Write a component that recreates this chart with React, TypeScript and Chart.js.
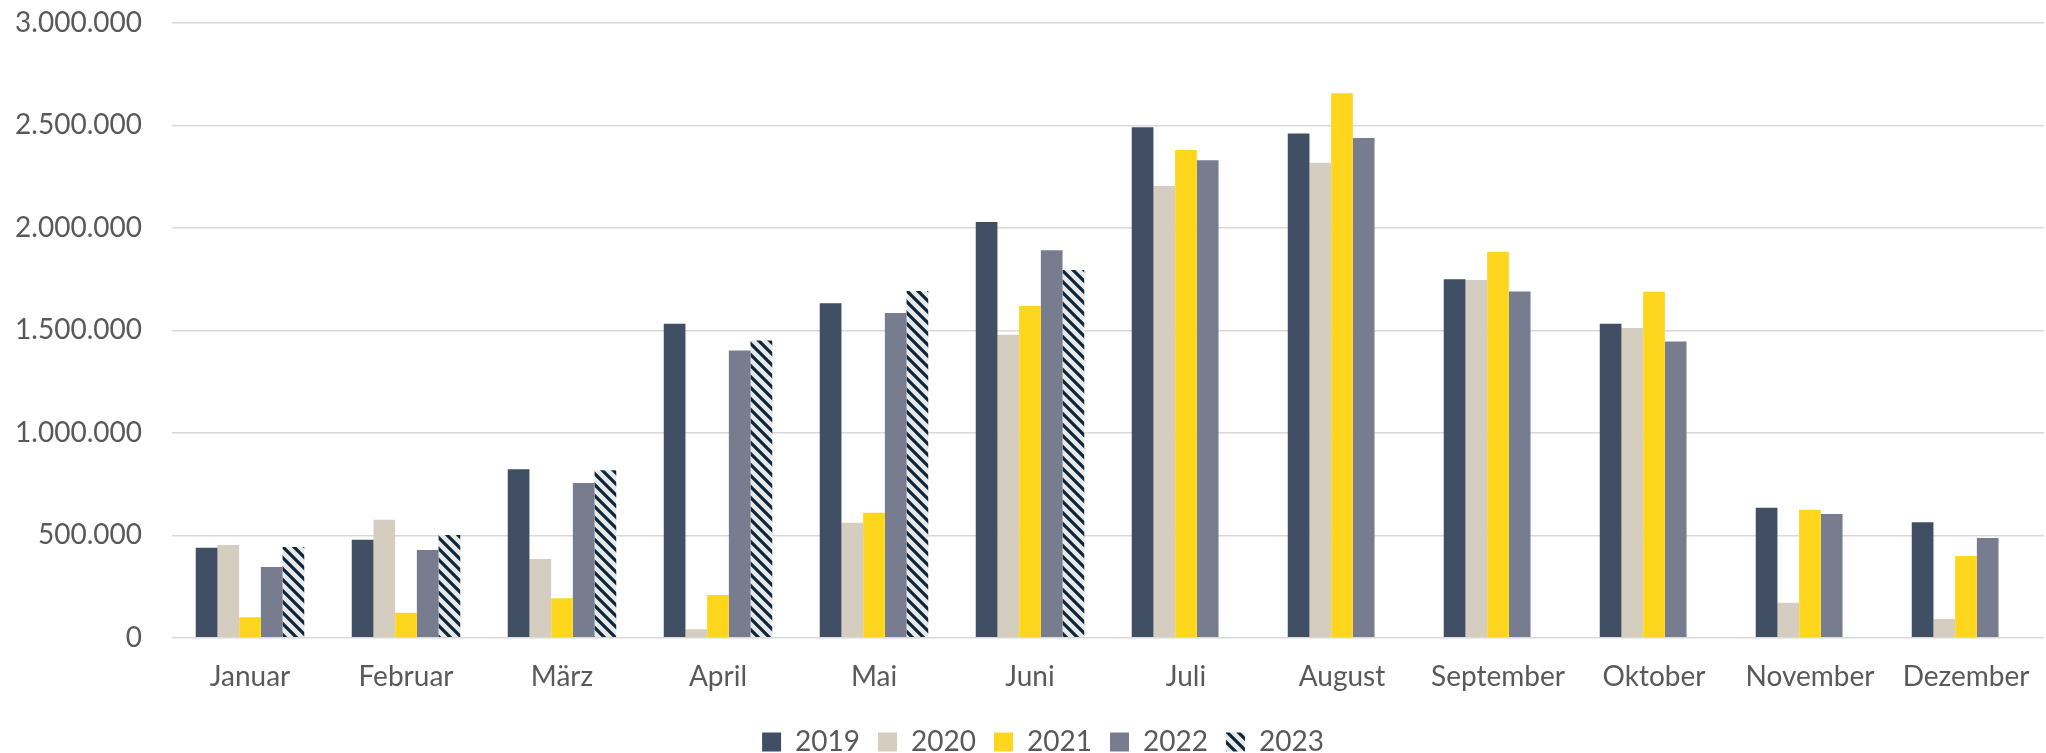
import React, { useEffect, useRef } from "react";
import { Chart, registerables } from "chart.js";

Chart.register(...registerables);

const months = ["Januar", "Februar", "März", "April", "Mai", "Juni", "Juli", "August", "September", "Oktober", "November", "Dezember"];
const years = ["2019", "2020", "2021", "2022", "2023"];

const values2019 = [439000, 478000, 822000, 1532000, 1632000, 2029000, 2491000, 2461000, 1750000, 1532000, 634000, 563000];
const values2020 = [452000, 576000, 384000, 41000, 561000, 1479000, 2204000, 2318000, 1746000, 1511000, 171000, 91000];
const values2021 = [100000, 122000, 192000, 208000, 610000, 1619000, 2380000, 2657000, 1884000, 1688000, 625000, 399000];
const values2022 = [345000, 428000, 755000, 1402000, 1585000, 1891000, 2330000, 2439000, 1690000, 1446000, 604000, 487000];
const values2023 = [443000, 501000, 817000, 1451000, 1692000, 1794000, null, null, null, null, null, null];

const yMin = 0;
const yMax = 3000000;
const yStep = 500000;

const colors = ["#404f63", "#d5cdc0", "#fed61e", "#777d8e"];
const hatchLight = "#e7e8e8";
const hatchDark = "#0c2539";

function formatDe(v: number): string {
  return String(Math.round(v)).replace(/\B(?=(\d{3})+(?!\d))/g, ".");
}

function makeHatch(ctx: CanvasRenderingContext2D): CanvasPattern | string {
  const s = 11;
  const c = document.createElement("canvas");
  c.width = s;
  c.height = s;
  const p = c.getContext("2d");
  if (!p) return hatchDark;
  p.fillStyle = hatchLight;
  p.fillRect(0, 0, s, s);
  p.strokeStyle = hatchDark;
  p.lineWidth = 3.2;
  p.lineCap = "square";
  for (let k = -s; k <= s; k += s) {
    p.beginPath();
    p.moveTo(-2, k - 2);
    p.lineTo(s + 2, s + k + 2);
    p.stroke();
  }
  return ctx.createPattern(c, "repeat") || hatchDark;
}

// nudges the (full-width) bottom legend so its row is centred like the original
const legendShift = {
  id: "legendShift",
  afterLayout(chart: any) {
    const lg = chart.legend;
    if (lg) {
      lg.left = lg.left + 42;
    }
  },
};

export default function App() {
  const canvasRef = useRef<HTMLCanvasElement | null>(null);

  useEffect(() => {
    const canvas = canvasRef.current;
    if (!canvas) return;
    const ctx = canvas.getContext("2d");
    if (!ctx) return;
    const hatch = makeHatch(ctx);
    const series = [values2019, values2020, values2021, values2022, values2023];
    const fontFamily = "Lato, 'Open Sans', sans-serif";

    const chart = new Chart(ctx, {
      type: "bar",
      data: {
        labels: months,
        datasets: series.map((d, i) => ({
          label: years[i],
          data: d,
          backgroundColor: i < 4 ? colors[i] : hatch,
          borderWidth: 0,
          categoryPercentage: 0.6955,
          barPercentage: 1.0,
        })),
      },
      plugins: [legendShift],
      options: {
        responsive: false,
        animation: false,
        devicePixelRatio: 1,
        layout: { padding: { top: 23, left: 0, right: 2, bottom: 0 } },
        plugins: {
          tooltip: { enabled: false },
          legend: {
            position: "bottom",
            maxHeight: 43,
            labels: {
              boxWidth: 19,
              boxHeight: 19,
              padding: 18,
              color: "#595959",
              font: { family: fontFamily, size: 28 },
            },
          },
        },
        scales: {
          x: {
            grid: { display: false, drawTicks: false },
            border: { display: false },
            ticks: {
              color: "#595959",
              font: { family: fontFamily, size: 28 },
              padding: 22,
              autoSkip: false,
              maxRotation: 0,
              minRotation: 0,
            },
            afterFit: (scale: any) => {
              scale.height = 72.3;
              scale.paddingLeft = 0;
              scale.paddingRight = 0;
            },
          },
          y: {
            min: yMin,
            max: yMax,
            grid: { color: "#d9d9d9", lineWidth: 1.4, drawTicks: false },
            border: { display: false },
            ticks: {
              stepSize: yStep,
              color: "#595959",
              font: { family: fontFamily, size: 28 },
              padding: 30,
              callback: (v: any) => formatDe(Number(v)),
            },
            afterFit: (scale: any) => {
              scale.width = 172;
              scale.paddingTop = 0;
              scale.paddingBottom = 0;
            },
          },
        },
      },
    });

    return () => {
      chart.destroy();
    };
  }, []);

  return (
    <div style={{ position: "absolute", left: 0, top: 0, width: 2046, height: 753, background: "#ffffff" }}>
      <canvas ref={canvasRef} width={2046} height={753} style={{ display: "block", width: 2046, height: 753 }} />
    </div>
  );
}
